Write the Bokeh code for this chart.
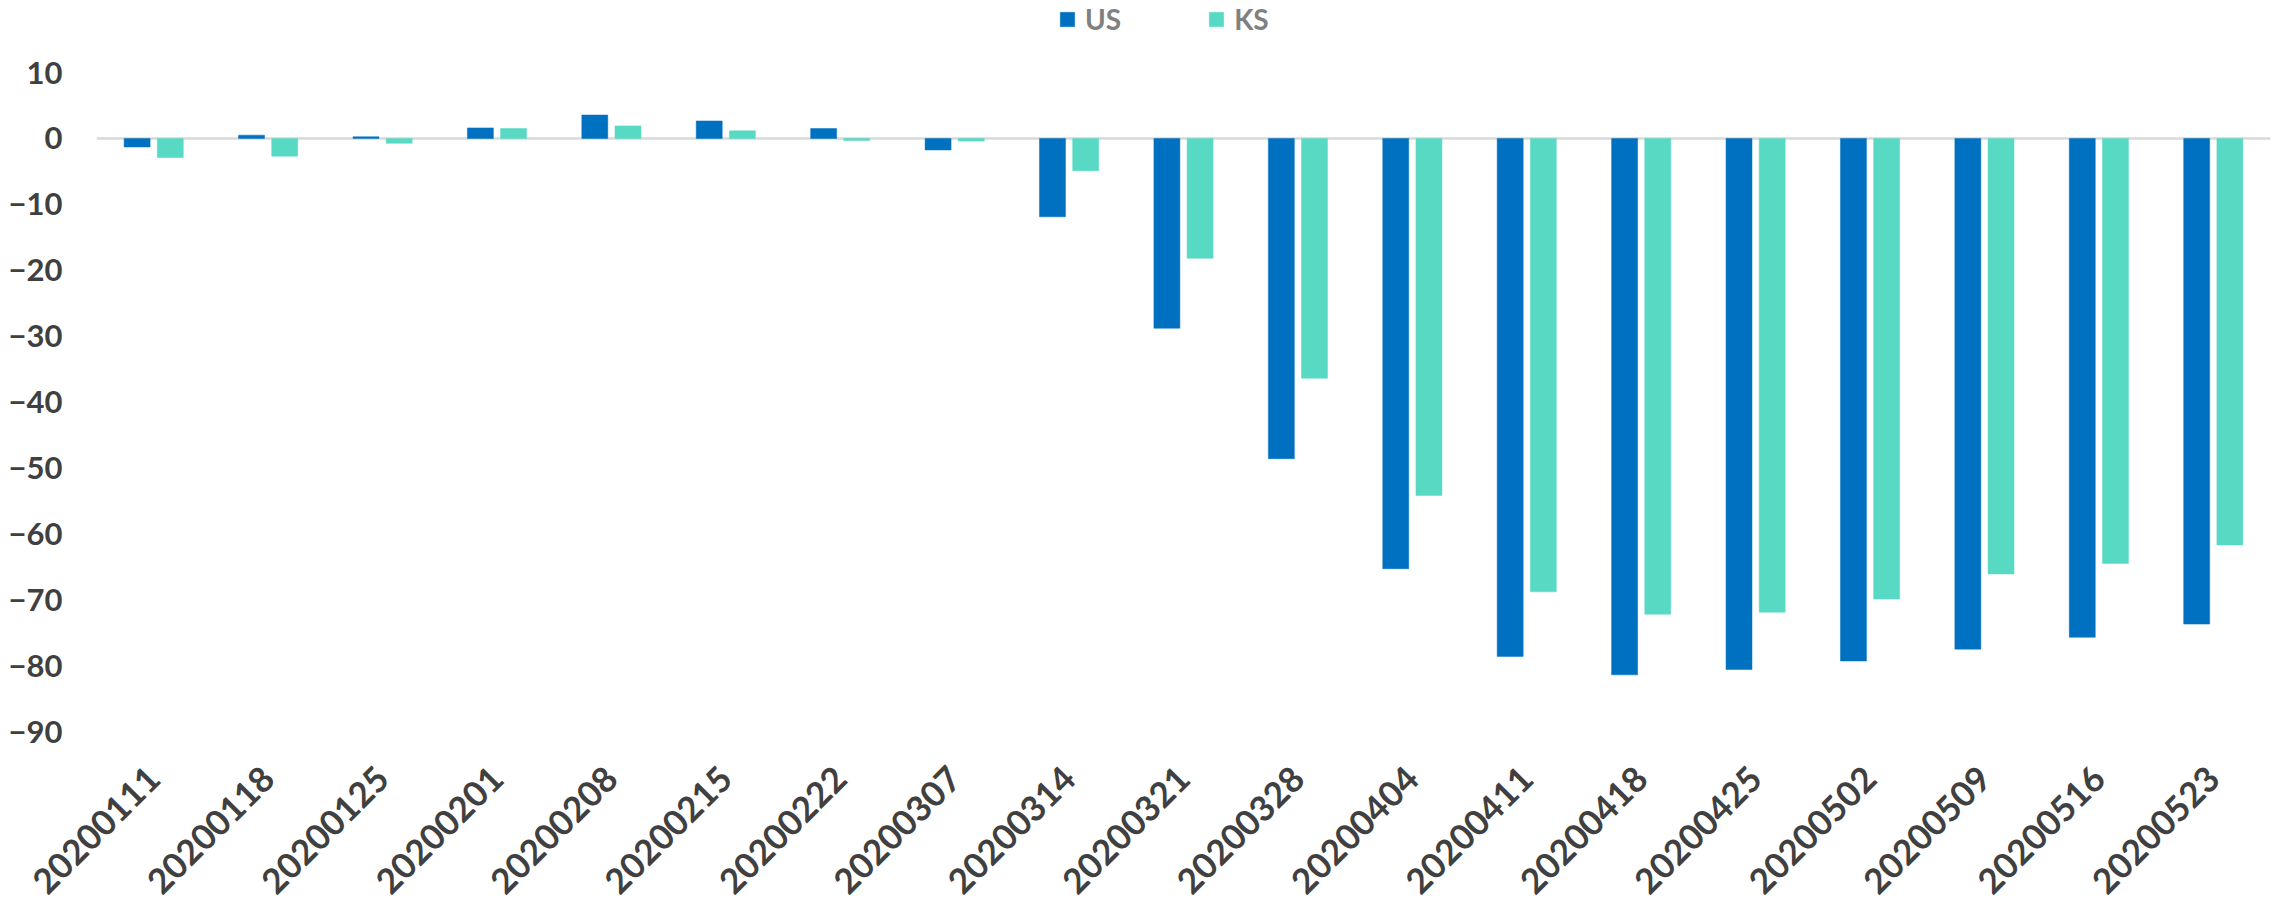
import math
from bokeh.plotting import figure
from bokeh.models import (ColumnDataSource, FactorRange, Range1d, FixedTicker,
                          Legend, LegendItem, Span)
from bokeh.transform import dodge
from bokeh.embed import file_html
from bokeh.resources import INLINE

categories = ["20200111", "20200118", "20200125", "20200201", "20200208",
              "20200215", "20200222", "20200307", "20200314", "20200321",
              "20200328", "20200404", "20200411", "20200418", "20200425",
              "20200502", "20200509", "20200516", "20200523"]
us_values = [-1.3, 0.5, 0.25, 1.6, 3.55, 2.65, 1.5, -1.75, -11.9, -28.8,
             -48.6, -65.3, -78.6, -81.4, -80.6, -79.3, -77.5, -75.7, -73.7]
ks_values = [-2.9, -2.7, -0.75, 1.5, 1.9, 1.15, -0.3, -0.4, -4.9, -18.2,
             -36.4, -54.2, -68.8, -72.2, -71.9, -69.9, -66.1, -64.5, -61.7]
y_ticks = [10, 0, -10, -20, -30, -40, -50, -60, -70, -80, -90]

US_COLOR = "#0070C0"
KS_COLOR = "#58D9C3"
FONT = "Lato"

src = ColumnDataSource(dict(cat=categories, us=us_values, ks=ks_values))

# frame spans the full top of the page so the legend can sit inside it;
# the top of the y range leaves the legend strip above the "10" tick
p = figure(x_range=FactorRange(*categories, range_padding=0),
           y_range=Range1d(-90, 20.93),
           width=2272, height=908, output_backend="svg",
           toolbar_location=None, min_border_left=96, min_border_right=2,
           min_border_top=0, min_border_bottom=177)
p.outline_line_color = None
p.background_fill_color = "white"
p.xgrid.grid_line_color = None
p.ygrid.grid_line_color = None

zero = Span(location=0, dimension="width", line_color="#D9D9D9",
            line_width=2.5, level="underlay")
p.add_layout(zero)

r_us = p.vbar(x=dodge("cat", -0.145, range=p.x_range), top="us", width=0.227,
              source=src, fill_color=US_COLOR, line_color=US_COLOR, line_width=0.5)
r_ks = p.vbar(x=dodge("cat", 0.145, range=p.x_range), top="ks", width=0.227,
              source=src, fill_color=KS_COLOR, line_color=KS_COLOR, line_width=0.5)

# y axis
p.yaxis.ticker = FixedTicker(ticks=y_ticks)
p.yaxis.axis_line_color = None
p.yaxis.major_tick_line_color = None
p.yaxis.minor_tick_line_color = None
p.yaxis.major_tick_out = 0
p.yaxis.major_tick_in = 0
p.yaxis.major_label_standoff = 34
p.yaxis.major_label_text_font = FONT
p.yaxis.major_label_text_font_style = "bold"
p.yaxis.major_label_text_font_size = "31px"
p.yaxis.major_label_text_color = "#404040"

# x axis
p.xaxis.axis_line_color = None
p.xaxis.major_tick_line_color = None
p.xaxis.minor_tick_line_color = None
p.xaxis.major_tick_out = 0
p.xaxis.major_tick_in = 0
p.xaxis.major_label_standoff = 41
p.xaxis.major_label_orientation = math.pi / 4
p.xaxis.major_label_text_font = FONT
p.xaxis.major_label_text_font_style = "bold"
p.xaxis.major_label_text_font_size = "35px"
p.xaxis.major_label_text_color = "#404040"

legend = Legend(items=[LegendItem(label="US", renderers=[r_us]),
                       LegendItem(label="KS", renderers=[r_ks])],
                orientation="horizontal", location=(962, 695),
                glyph_width=18, glyph_height=18, label_standoff=9,
                spacing=86, padding=0, margin=0,
                label_text_font=FONT, label_text_font_style="bold",
                label_text_font_size="28px", label_text_color="#808080",
                border_line_color=None, background_fill_alpha=0)
p.add_layout(legend, "center")

open("out.html", "w").write(file_html(p, INLINE))
